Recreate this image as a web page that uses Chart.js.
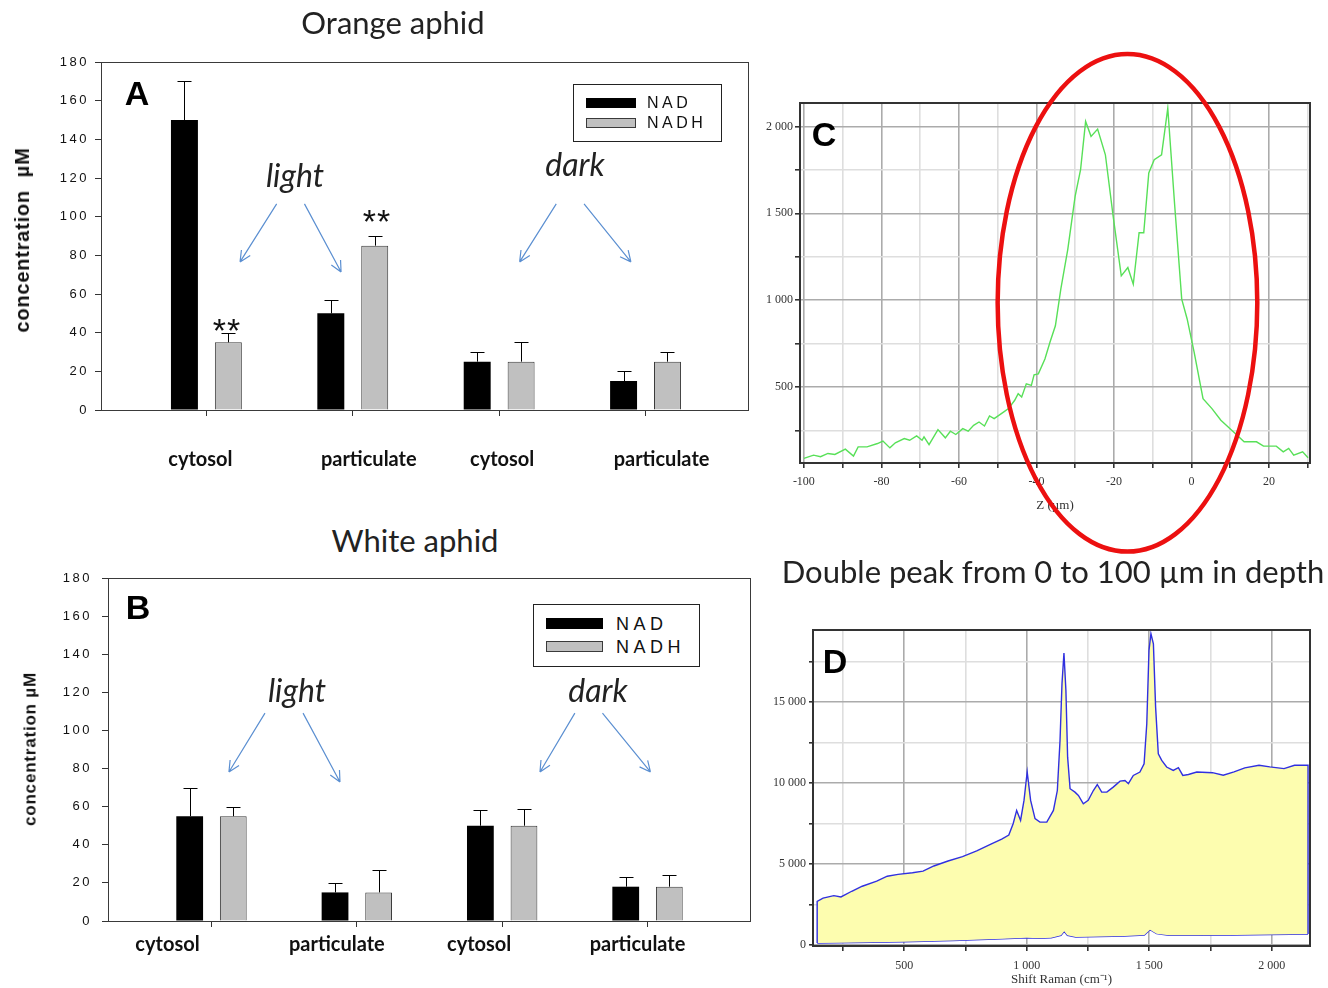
<!DOCTYPE html>
<html>
<head>
<meta charset="utf-8">
<script src="https://cdn.jsdelivr.net/npm/chart.js@4.4.1/dist/chart.umd.min.js"></script>
<style>
  body { margin: 0; background: #fff; }
  #page { position: relative; width: 1328px; height: 988px; overflow: hidden; color: #111; }
  canvas { position: absolute; }
  .t { position: absolute; white-space: pre; line-height: 1; transform: translate(-50%, -50%); }
  .title { font: 31px Lato, sans-serif; color: #222; }
  .letter { font: bold 34px "Liberation Sans", Arial, sans-serif; color: #000; }
  .cond { font: italic 32px Lato, sans-serif; color: #222; }
  .star { font: 34px "Liberation Sans", Arial, sans-serif; letter-spacing: 1px; color: #111; }
  .cat { font: bold 20px Lato, sans-serif; color: #111; }
  .ytitle { font-family: "Liberation Sans", Arial, sans-serif; font-weight: bold; letter-spacing: 0.8px; transform: translate(-50%, -50%) rotate(-90deg); }
  .legend { position: absolute; border: 1px solid #222; background: #fff; box-sizing: border-box; }
  .legend .sw { position: absolute; box-sizing: border-box; }
  .legend .lb { position: absolute; font-family: "Liberation Sans", Arial, sans-serif; line-height: 1; transform: translateY(-50%); color: #111; }
</style>
</head>
<body>
<div id="page">
  <canvas id="chartA" width="770" height="450" style="left:0px;top:40px"></canvas>
  <canvas id="chartB" width="770" height="428" style="left:0px;top:560px"></canvas>
  <canvas id="chartC" width="578" height="520" style="left:750px;top:40px"></canvas>
  <canvas id="chartD" width="578" height="388" style="left:750px;top:600px"></canvas>
</div>
<script>
// ---- data ----
const categories = ['cytosol', 'particulate', 'cytosol', 'particulate'];
const seriesNames = ['NAD', 'NADH'];

// Orange aphid (panel A), µM
const orangeNAD = [150, 50, 25, 15];
const orangeNADErr = [20, 7, 5, 5];
const orangeNADH = [35, 85, 25, 25];
const orangeNADHErr = [5, 5, 10, 5];

// White aphid (panel B), µM
const whiteNAD = [55, 15, 50, 18];
const whiteNADErr = [15, 5, 8, 5];
const whiteNADH = [55, 15, 50, 18];
const whiteNADHErr = [5, 12, 9, 6];

// Panel C: intensity vs depth Z (µm)
const depthZ = [-100, -97.5, -95.7, -93.8, -92, -89.3, -87.2, -86, -83.7, -81, -79.6, -77.8, -76.4, -74.1,
  -72.7, -70.9, -69.5, -69, -67.7, -65.4, -63.5, -62.2, -60.8, -59, -57.6, -56.2, -54.8, -53.4, -52.1,
  -50.9, -48.4, -47.2, -45.6, -44.7, -43.8, -42.6, -41.3, -40.6, -39.5, -37.8, -36.5, -35.1, -33.7,
  -31.9, -30, -28.6, -27.3, -25.9, -24.2, -22.2, -20.2, -18.1, -16.4, -15, -13.5, -12.3, -11, -9.6,
  -7.7, -6.1, -4.3, -2.5, -1.1, 0.7, 3, 5.3, 7.6, 9, 11.8, 13.6, 16.8, 18.6, 21.9, 23.7, 25.1, 26.4,
  28.7, 30.1];
const depthIntensity = [90, 108, 99, 118, 112, 143, 103, 156, 156, 175, 189, 150, 179, 204,
  194, 219, 194, 213, 169, 255, 208, 246, 227, 261, 246, 280, 299, 276, 334,
  318, 357, 376, 424, 462, 443, 519, 510, 571, 576, 662, 758, 853, 1064,
  1293, 1599, 1752, 2029, 1943, 1985, 1837, 1484, 1140, 1188, 1092, 1388, 1388, 1732, 1809,
  1837, 2105, 1541, 1006, 892, 701, 433, 376, 309, 280, 223, 185, 185, 160, 160, 127, 147, 108,
  127, 93];
const depthTicks = [-100, -90, -80, -70, -60, -50, -40, -30, -20, -10, 0, 10, 20, 30];
const depthLabelStep = 20;
const intensityTicks = [250, 500, 750, 1000, 1250, 1500, 1750, 2000];
const intensityLabelStep = 500;

// Panel D: Raman spectrum (upper trace, closed at both ends) and lower trace
const ramanShift = [145, 145, 169, 213, 242, 286, 329, 388, 431, 475, 534, 577, 621, 679, 738, 796, 854,
  898, 927, 945, 959, 975, 989, 1002, 1016, 1034, 1054, 1082, 1109, 1125, 1136, 1144, 1152, 1160,
  1167, 1177, 1197, 1211, 1231, 1251, 1272, 1288, 1306, 1327, 1353, 1381, 1401, 1415, 1435, 1462,
  1479, 1490, 1499, 1507, 1517, 1526, 1537, 1551, 1571, 1598, 1619, 1637, 1660, 1694, 1758, 1802,
  1846, 1890, 1948, 1992, 2050, 2093, 2148, 2148];
const ramanSignal = [120, 2700, 2900, 3050, 2970, 3320, 3630, 3940, 4250, 4360, 4460, 4565, 4880, 5190,
  5460, 5810, 6225, 6540, 6790, 7500, 8310, 7690, 8930, 10680, 8930, 7800, 7590, 7590, 8310, 9540,
  12630, 16130, 18020, 15720, 11600, 9650, 9440, 9240, 8720, 8930, 9540, 9910, 9440, 9440, 9750,
  10120, 10160, 9960, 10470, 10680, 11190, 13660, 18190, 19220, 18600, 14690, 11810, 11400, 10990,
  10780, 10950, 10470, 10530, 10680, 10640, 10480, 10690, 10935, 11100, 11000, 10890, 11100, 11100, 680];
const baseShift = [145, 300, 500, 700, 900, 1000, 1050, 1100, 1140, 1153, 1166, 1200, 1300, 1400, 1480,
  1503, 1530, 1580, 1700, 1850, 2000, 2148];
const baseSignal = [120, 150, 200, 280, 380, 450, 420, 450, 600, 850, 600, 500, 520, 560, 620,
  950, 700, 600, 600, 620, 650, 680];
const shiftTicks = [250, 500, 750, 1000, 1250, 1500, 1750, 2000];
const shiftLabelStep = 500;
const countTicks = [0, 2500, 5000, 7500, 10000, 12500, 15000, 17500];
const countLabelStep = 5000;

// ---- styles ----
const barFill = ['#000000', '#c0c0c0'];
const barEdge = ['#000000', '#3a3a3a'];
const arrowBlue = '#5b8fd1';
const gridMajor = '#ababab';
const gridMinor = '#dedede';
const serifTicks = { family: 'Liberation Serif', size: 12 };

const page = document.getElementById('page');

function addText(text, cx, cy, cls, extra) {
  const el = document.createElement('div');
  el.className = 't ' + cls;
  el.textContent = text;
  el.style.left = cx + 'px';
  el.style.top = cy + 'px';
  if (extra) Object.assign(el.style, extra);
  page.appendChild(el);
  return el;
}

function spaced(v) {
  const a = Math.abs(v);
  const s = a >= 1000 ? Math.floor(a / 1000) + ' ' + String(a % 1000).padStart(3, '0') : String(a);
  return (v < 0 ? '-' : '') + s;
}

// ticks from a fixed list, grid darker where a label sits
function fixedTicks(list) {
  return s => { s.ticks = list.map(v => ({ value: v })); };
}
function labelEvery(step) {
  return v => (v % step === 0 ? spaced(v) : '');
}
function gridShade(step) {
  return c => (c.tick && c.tick.value % step === 0 ? gridMajor : gridMinor);
}

// ---- plugins ----
const frame = {
  id: 'frame',
  afterDatasetsDraw(chart, args, opts) {
    const { ctx, chartArea: a } = chart;
    ctx.save();
    ctx.strokeStyle = opts.color;
    ctx.lineWidth = opts.width;
    const o = opts.width % 2 ? 0.5 : 0;
    ctx.strokeRect(Math.round(a.left) + o, Math.round(a.top) + o,
      Math.round(a.right - a.left), Math.round(a.bottom - a.top));
    ctx.restore();
  }
};

const errorBars = {
  id: 'errorBars',
  afterDatasetsDraw(chart, args, opts) {
    const { ctx, scales: { y } } = chart;
    ctx.save();
    ctx.strokeStyle = '#000';
    ctx.lineWidth = 1;
    chart.data.datasets.forEach((ds, di) => {
      chart.getDatasetMeta(di).data.forEach((bar, i) => {
        const top = Math.round(y.getPixelForValue(ds.data[i].y + ds.errors[i])) + 0.5;
        const x = Math.round(bar.x) + 0.5;
        ctx.beginPath();
        ctx.moveTo(x, bar.y);
        ctx.lineTo(x, top);
        ctx.moveTo(x - opts.cap, top);
        ctx.lineTo(x + opts.cap, top);
        ctx.stroke();
      });
    });
    ctx.restore();
  }
};

const arrows = {
  id: 'arrows',
  afterDatasetsDraw(chart, args, opts) {
    const { ctx, scales: { x, y } } = chart;
    ctx.save();
    ctx.strokeStyle = opts.color;
    ctx.lineWidth = 1.2;
    opts.items.forEach(it => {
      const ax = x.getPixelForValue(it[0]), ay = y.getPixelForValue(it[1]);
      const bx = x.getPixelForValue(it[2]), by = y.getPixelForValue(it[3]);
      const ang = Math.atan2(by - ay, bx - ax);
      ctx.beginPath();
      ctx.moveTo(ax, ay);
      ctx.lineTo(bx, by);
      [-0.45, 0.45].forEach(d => {
        ctx.moveTo(bx, by);
        ctx.lineTo(bx - 12 * Math.cos(ang + d), by - 12 * Math.sin(ang + d));
      });
      ctx.stroke();
    });
    ctx.restore();
  }
};

// spaced-out tick digits like the original plots
const spacing = {
  id: 'spacing',
  beforeDraw(chart, args, opts) { chart.ctx.letterSpacing = opts.px + 'px'; }
};

const ellipse = {
  id: 'ellipse',
  afterDraw(chart, args, opts) {
    const { ctx, scales: { x, y } } = chart;
    const cx = x.getPixelForValue(opts.cx), cy = y.getPixelForValue(opts.cy);
    const rx = Math.abs(x.getPixelForValue(opts.cx + opts.rx) - cx);
    const ry = Math.abs(y.getPixelForValue(opts.cy + opts.ry) - cy);
    ctx.save();
    ctx.strokeStyle = opts.color;
    ctx.lineWidth = opts.width;
    ctx.beginPath();
    ctx.ellipse(cx, cy, rx, ry, 0, 0, Math.PI * 2);
    ctx.stroke();
    ctx.restore();
  }
};

// ---- bar panels (A, B) ----
function toPoints(values) {
  return values.map((v, i) => ({ x: i, y: v }));
}

function barDatasets(nad, nadErr, nadh, nadhErr) {
  return [nad, nadh].map((vals, k) => ({
    label: seriesNames[k],
    data: toPoints(vals),
    errors: k ? nadhErr : nadErr,
    backgroundColor: barFill[k],
    borderColor: barEdge[k],
    borderWidth: k ? 1 : 0,
    categoryPercentage: 0.6,
    barPercentage: 0.614
  }));
}

function barChart(id, datasets, cfg) {
  return new Chart(document.getElementById(id), {
    type: 'bar',
    data: { datasets: datasets },
    options: {
      responsive: false,
      animation: false,
      layout: { padding: cfg.padding },
      scales: {
        x: {
          type: 'linear',
          min: cfg.xMin,
          max: cfg.xMax,
          offset: false,
          afterBuildTicks: fixedTicks(categories.map((c, i) => i)),
          afterFit: s => { s.height = cfg.xHeight; },
          ticks: { callback: () => '' },
          grid: { drawOnChartArea: false, offset: false, tickLength: 6, tickColor: '#333' },
          border: { display: false }
        },
        y: {
          min: 0,
          max: 180,
          afterFit: s => { s.width = cfg.yWidth; },
          ticks: { stepSize: 20, padding: cfg.tickPad, color: '#111',
                   font: { family: 'Liberation Sans', size: 13 } },
          grid: { drawOnChartArea: false, tickLength: 6, tickColor: '#333' },
          border: { display: false }
        }
      },
      plugins: {
        legend: { display: false },
        tooltip: { enabled: false },
        frame: { color: '#3a3a3a', width: 1 },
        errorBars: { cap: 7 },
        arrows: { color: arrowBlue, items: cfg.arrows },
        spacing: { px: 2.5 }
      }
    },
    plugins: [spacing, frame, errorBars, arrows]
  });
}

function addLegend(box) {
  const lg = document.createElement('div');
  lg.className = 'legend';
  Object.assign(lg.style, { left: box.left + 'px', top: box.top + 'px', width: box.w + 'px', height: box.h + 'px' });
  seriesNames.forEach((name, k) => {
    const sw = document.createElement('div');
    sw.className = 'sw';
    Object.assign(sw.style, {
      left: '12px', top: (box.row0 + k * box.gap) + 'px', width: box.swW + 'px', height: box.swH + 'px',
      background: barFill[k], border: k ? '1px solid ' + barEdge[k] : 'none'
    });
    const lb = document.createElement('div');
    lb.className = 'lb';
    lb.textContent = name;
    Object.assign(lb.style, {
      left: box.textLeft + 'px', top: (box.row0 + k * box.gap + box.swH / 2) + 'px',
      fontSize: box.font + 'px', letterSpacing: box.ls + 'px'
    });
    lg.appendChild(sw);
    lg.appendChild(lb);
  });
  page.appendChild(lg);
}

function addCategoryLabels(chart, canvasLeft, cy, shifts) {
  categories.forEach((name, i) => {
    addText(name, canvasLeft + chart.scales.x.getPixelForValue(i) + shifts[i], cy, 'cat');
  });
}

const chartA = barChart('chartA', barDatasets(orangeNAD, orangeNADErr, orangeNADH, orangeNADHErr), {
  padding: { top: 22, right: 22, left: 0, bottom: 0 },
  xMin: -0.72, xMax: 3.7, xHeight: 80, yWidth: 101, tickPad: 6,
  arrows: [[0.48, 106.6, 0.23, 76.6], [0.67, 106.6, 0.92, 71.4],
           [2.39, 106.6, 2.14, 76.6], [2.58, 106.6, 2.9, 76.6]]
});

const chartB = barChart('chartB', barDatasets(whiteNAD, whiteNADErr, whiteNADH, whiteNADHErr), {
  padding: { top: 18, right: 20, left: 0, bottom: 0 },
  xMin: -0.712, xMax: 3.705, xHeight: 67, yWidth: 108, tickPad: 10,
  arrows: [[0.368, 109.1, 0.12, 78.2], [0.63, 109.1, 0.884, 72.9],
           [2.5, 109.1, 2.26, 78.2], [2.69, 109.1, 3.02, 78.2]]
});

// ---- panel C: depth profile ----
const chartC = new Chart(document.getElementById('chartC'), {
  type: 'line',
  data: {
    datasets: [{
      data: depthZ.map((z, i) => ({ x: z, y: depthIntensity[i] })),
      borderColor: '#58e058',
      borderWidth: 1.4,
      pointRadius: 0,
      tension: 0,
      fill: false
    }]
  },
  options: {
    responsive: false,
    animation: false,
    layout: { padding: { top: 63, right: 18, left: 0, bottom: 47 } },
    scales: {
      x: {
        type: 'linear', min: -101, max: 30.6,
        afterBuildTicks: fixedTicks(depthTicks),
        afterFit: s => { s.height = 50; },
        ticks: { autoSkip: false, maxRotation: 0, padding: 7, callback: labelEvery(depthLabelStep),
                 color: '#333', font: serifTicks },
        grid: { color: gridShade(depthLabelStep), lineWidth: 1.6, tickLength: 5, tickColor: '#333' },
        border: { display: false },
        title: { display: true, text: 'Z (µm)', color: '#333', padding: { top: 10, bottom: 0 },
                 font: { family: 'Liberation Serif', size: 13 } }
      },
      y: {
        min: 63, max: 2135,
        afterBuildTicks: fixedTicks(intensityTicks),
        afterFit: s => { s.width = 50; },
        ticks: { autoSkip: false, padding: 2, callback: labelEvery(intensityLabelStep),
                 color: '#333', font: serifTicks },
        grid: { color: gridShade(intensityLabelStep), lineWidth: 1.6, tickLength: 5, tickColor: '#333' },
        border: { display: false }
      }
    },
    plugins: {
      legend: { display: false },
      tooltip: { enabled: false },
      frame: { color: '#333', width: 2 },
      ellipse: { cx: -16.5, cy: 985, rx: 33.5, ry: 1432, color: '#ec1010', width: 4.5 }
    }
  },
  plugins: [frame, ellipse]
});

// ---- panel D: Raman spectrum ----
const chartD = new Chart(document.getElementById('chartD'), {
  type: 'line',
  data: {
    datasets: [{
      data: ramanShift.map((s, i) => ({ x: s, y: ramanSignal[i] })),
      borderColor: '#3030e0',
      borderWidth: 1.4,
      pointRadius: 0,
      tension: 0,
      fill: { target: 1 },
      backgroundColor: '#fdfdaf'
    }, {
      data: baseShift.map((s, i) => ({ x: s, y: baseSignal[i] })),
      borderColor: '#3030e0',
      borderWidth: 1.4,
      pointRadius: 0,
      tension: 0,
      fill: false
    }]
  },
  options: {
    responsive: false,
    animation: false,
    layout: { padding: { top: 30, right: 18, left: 0, bottom: 1 } },
    scales: {
      x: {
        type: 'linear', min: 128, max: 2156,
        afterBuildTicks: fixedTicks(shiftTicks),
        afterFit: s => { s.height = 41; },
        ticks: { autoSkip: false, maxRotation: 0, padding: 8, callback: labelEvery(shiftLabelStep),
                 color: '#333', font: serifTicks },
        grid: { color: gridShade(shiftLabelStep), lineWidth: 1.6, tickLength: 5, tickColor: '#333' },
        border: { display: false },
        title: { display: true, text: 'Shift Raman (cm⁻¹)', color: '#333', padding: { top: 0, bottom: 0 },
                 font: { family: 'Liberation Serif', size: 13 } }
      },
      y: {
        min: -60, max: 19450,
        afterBuildTicks: fixedTicks(countTicks),
        afterFit: s => { s.width = 63; },
        ticks: { autoSkip: false, padding: 3, callback: labelEvery(countLabelStep),
                 color: '#333', font: serifTicks },
        grid: { color: gridShade(countLabelStep), lineWidth: 1.6, tickLength: 4, tickColor: '#333' },
        border: { display: false }
      }
    },
    plugins: {
      legend: { display: false },
      tooltip: { enabled: false },
      frame: { color: '#333', width: 2 }
    }
  },
  plugins: [frame]
});

// ---- text overlays ----
addText('Orange aphid', 393, 22, 'title');
addText('White aphid', 415, 540, 'title');
addText('Double peak from 0 to 100 µm in depth', 1053, 571, 'title');

addText('A', 137, 93, 'letter');
addText('B', 138, 607, 'letter');
addText('C', 824, 134, 'letter');
addText('D', 835, 661, 'letter');

addText('concentration  µM', 22, 240, 'ytitle', { fontSize: '20px' });
addText('concentration µM', 30, 749, 'ytitle', { fontSize: '17px' });

addText('light', 295, 174, 'cond');
addText('dark', 575, 163, 'cond');
addText('**', 227, 330, 'star');
addText('**', 377, 221, 'star');
addText('light', 297, 689, 'cond');
addText('dark', 598, 689, 'cond');

addCategoryLabels(chartA, 0, 458, [-6, 16, 3, 16]);
addCategoryLabels(chartB, 0, 943, [-44, -20, -23, -10]);

addLegend({ left: 573, top: 84, w: 149, h: 58, row0: 13, gap: 20, swW: 50, swH: 10,
            textLeft: 73, font: 16, ls: 3.5 });
addLegend({ left: 533, top: 604, w: 167, h: 63, row0: 13, gap: 23, swW: 57, swH: 11,
            textLeft: 82, font: 18, ls: 4.5 });
</script>
</body>
</html>
